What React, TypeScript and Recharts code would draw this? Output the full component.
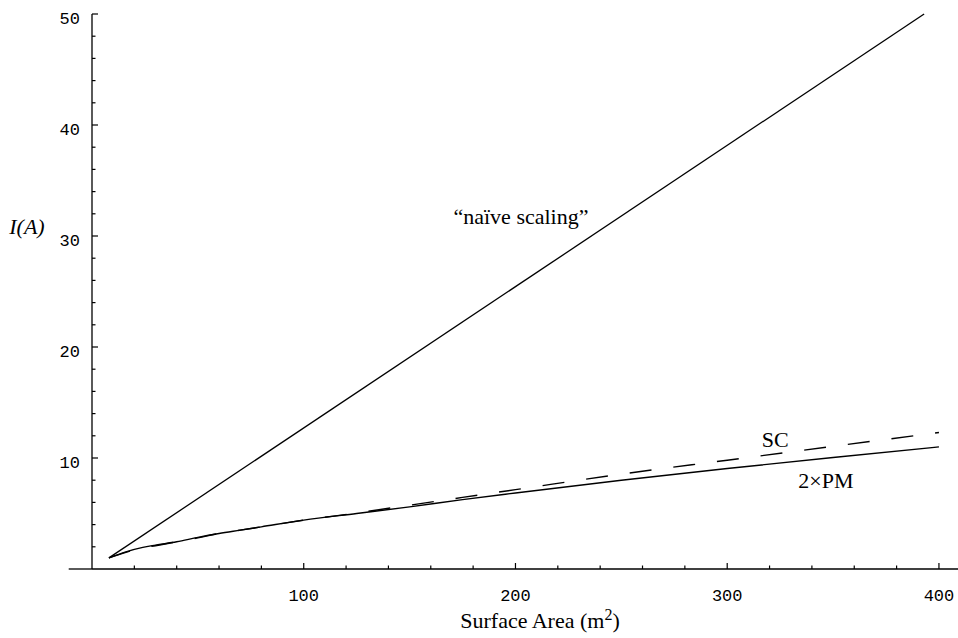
import { LineChart, Line, XAxis, YAxis, ReferenceDot, ReferenceLine } from 'recharts'

// surface area (m^2) sampled along the lower curves
const AREA = [8, 16, 24, 30, 40, 50, 60, 70, 80, 100, 125, 150, 175, 200, 250, 300, 350, 400]
const PM2 = [1.0, 1.55, 1.95, 2.15, 2.45, 2.85, 3.2, 3.5, 3.8, 4.4, 5.0, 5.6, 6.25, 6.85, 8.0, 9.05, 10.05, 11.0]
const SC = [1.0, 1.5, 1.9, 2.1, 2.45, 2.8, 3.2, 3.5, 3.8, 4.4, 5.05, 5.75, 6.45, 7.15, 8.55, 9.8, 11.05, 12.3]

// "naive scaling" is a straight line
const NAIVE_AREA = [8, 393]
const NAIVE_I = [1, 50]

const X_TICKS = [20, 40, 60, 80, 100, 120, 140, 160, 180, 200, 220, 240, 260, 280, 300, 320, 340, 360, 380, 400]
const Y_TICKS = [2, 4, 6, 8, 10, 12, 14, 16, 18, 20, 22, 24, 26, 28, 30, 32, 34, 36, 38, 40, 42, 44, 46, 48, 50]
const X_MAJOR = [100, 200, 300, 400]
const Y_MAJOR = [10, 20, 30, 40, 50]

const SERIF = 'Liberation Serif, Times New Roman, serif'
const MONO = 'Liberation Mono, Courier New, monospace'

const curveData = AREA.map((a, i) => ({ area: a, pm: PM2[i], sc: SC[i] }))
const naiveData = NAIVE_AREA.map((a, i) => ({ area: a, naive: NAIVE_I[i] }))

function XTick(props: any) {
  const { x, y, payload } = props
  const major = X_MAJOR.includes(payload.value)
  return (
    <g>
      <line x1={x} x2={x} y1={y} y2={y - (major ? 6 : 3.5)} stroke="#000" strokeWidth={1.2} />
      {major && (
        <text x={x} y={y + 32} textAnchor="middle" fontFamily={MONO} fontSize={17} fill="#000">
          {payload.value}
        </text>
      )}
    </g>
  )
}

function YTick(props: any) {
  const { x, y, payload } = props
  const major = Y_MAJOR.includes(payload.value)
  return (
    <g>
      <line x1={x} x2={x + (major ? 6 : 3.5)} y1={y} y2={y} stroke="#000" strokeWidth={1.2} />
      {major && (
        <text x={x - 12} y={y + 10} textAnchor="end" fontFamily={MONO} fontSize={17} fill="#000">
          {payload.value}
        </text>
      )}
    </g>
  )
}

function AxisTitle(props: any) {
  const vb = props.viewBox
  return (
    <text x={vb.x + vb.width / 2 + 15} y={vb.y + 59} textAnchor="middle" fontFamily={SERIF} fontSize={22} fill="#000">
      Surface Area (m
      <tspan dy={-8} fontSize={16}>2</tspan>
      <tspan dy={8}>)</tspan>
    </text>
  )
}

const labelStyle = { fontFamily: SERIF, fontSize: 22, fill: '#000' }

export default function App() {
  return (
    <div style={{ position: 'absolute', left: 0, top: 0, width: 958, height: 638, background: '#fff' }}>
      <LineChart width={958} height={638} margin={{ top: 14, right: 0, bottom: 19, left: 0 }}>
        <XAxis
          type="number"
          dataKey="area"
          domain={[0, 409]}
          ticks={X_TICKS}
          interval={0}
          height={50}
          tickSize={0}
          tickMargin={0}
          tickLine={false}
          axisLine={{ stroke: '#000', strokeWidth: 1.3 }}
          tick={XTick}
          label={AxisTitle}
        />
        <YAxis
          type="number"
          domain={[0, 50]}
          ticks={Y_TICKS}
          interval={0}
          width={92}
          tickSize={0}
          tickMargin={0}
          tickLine={false}
          axisLine={{ stroke: '#000', strokeWidth: 1.3 }}
          tick={YTick}
        />
        <ReferenceLine
          segment={[{ x: -11, y: 0 }, { x: 0, y: 0 }]}
          ifOverflow="visible"
          stroke="#000"
          strokeWidth={1.3}
        />
        <Line
          data={naiveData}
          type="linear"
          dataKey="naive"
          stroke="#000"
          strokeWidth={1.3}
          dot={false}
          isAnimationActive={false}
        />
        <Line
          data={curveData}
          type="monotone"
          dataKey="pm"
          stroke="#000"
          strokeWidth={1.4}
          dot={false}
          isAnimationActive={false}
        />
        <Line
          data={curveData}
          type="monotone"
          dataKey="sc"
          stroke="#000"
          strokeWidth={1.4}
          strokeDasharray="22 22"
          dot={false}
          isAnimationActive={false}
        />
        <ReferenceDot x={202.6} y={31.8} r={0} ifOverflow="visible" label={{ value: '\u201Cna\u00EFve scaling\u201D', ...labelStyle }} />
        <ReferenceDot x={322.7} y={11.7} r={0} ifOverflow="visible" label={{ value: 'SC', ...labelStyle }} />
        <ReferenceDot x={346.6} y={8.0} r={0} ifOverflow="visible" label={{ value: '2\u00D7PM', ...labelStyle }} />
        <ReferenceDot x={-30.7} y={30.9} r={0} ifOverflow="visible" label={{ value: 'I(A)', ...labelStyle, fontStyle: 'italic' }} />
      </LineChart>
    </div>
  )
}
